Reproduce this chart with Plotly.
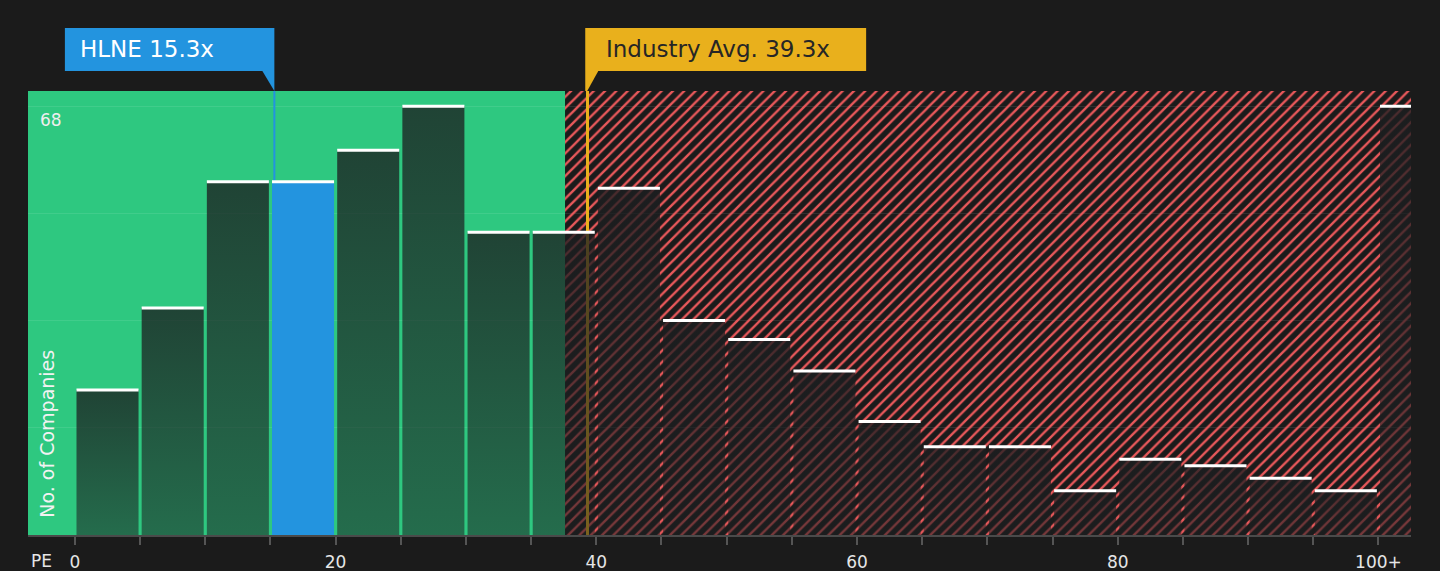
import plotly.graph_objects as go

# PE distribution (bins of 5x, last bin is 100+)
bin_lo = [0, 5, 10, 15, 20, 25, 30, 35, 40, 45, 50, 55, 60, 65, 70, 75, 80, 85, 90, 95, 100]
counts = [23, 36, 56, 56, 61, 68, 48, 48, 55, 34, 31, 26, 18, 14, 14, 7, 12, 11, 9, 7, 68]
bin_w = 5

tick_vals = list(range(0, 105, 5))
tick_text = ["0", "", "", "", "20", "", "", "", "40", "", "", "", "60", "", "", "", "80", "", "", "", "100+"]
grid_vals = [17, 34, 51, 68]

company = "HLNE"
company_pe = 15.3
industry_pe = 39.3
fair_limit = 37.6          # end of green "good value" zone

x_min, x_max = -3.6, 102.5
y_max = 70.4

BG = "#1b1b1b"
GREEN = "#2ec880"
BLUE = "#2394df"
ORANGE = "#e9b01c"
RED = "#e8585a"
FONT = "DejaVu Sans"
BAR_TOP = "rgba(28,30,32,0.78)"
BAR_BOTTOM = "rgba(28,30,32,0.54)"

hl_idx = bin_lo.index(15)
gap = 0.12

fig = go.Figure()

# red hatched "expensive" zone (bar layer -> stays under the scatter-drawn bars)
fig.add_trace(go.Bar(
    x=[(fair_limit + x_max) / 2], y=[y_max], width=x_max - fair_limit,
    marker=dict(color="rgba(0,0,0,0)", line=dict(width=0),
                pattern=dict(shape="/", fgcolor=RED, bgcolor="rgba(0,0,0,0)", fgopacity=1,
                             size=8, solidity=0.3)),
    hoverinfo="skip", showlegend=False,
))

# industry average line (under the bars)
fig.add_trace(go.Bar(x=[industry_pe], y=[y_max], width=0.22,
                     marker=dict(color=ORANGE, line=dict(width=0)),
                     hoverinfo="skip", showlegend=False))

# histogram bars, each with a top-dark gradient
for i, (lo, c) in enumerate(zip(bin_lo, counts)):
    x0, x1 = lo + gap, lo + bin_w - gap
    kw = dict(fillcolor=BLUE) if i == hl_idx else dict(
        fillgradient=dict(type="vertical", start=0, stop=c,
                          colorscale=[[0, BAR_BOTTOM], [1, BAR_TOP]]))
    fig.add_trace(go.Scatter(
        x=[x0, x1, x1, x0, x0], y=[0, 0, c, c, 0],
        mode="none", fill="toself", hoverinfo="skip", showlegend=False, **kw,
    ))

# company line from its bar up to the callout
fig.add_trace(go.Scatter(x=[company_pe, company_pe], y=[counts[hl_idx], y_max], mode="lines",
                         line=dict(color=BLUE, width=2), hoverinfo="skip", showlegend=False))

# white caps on each bar
cap_x, cap_y = [], []
for lo, c in zip(bin_lo, counts):
    cap_x += [lo + gap, lo + bin_w - gap, None]
    cap_y += [c, c, None]
fig.add_trace(go.Scatter(x=cap_x, y=cap_y, mode="lines",
                         line=dict(color="white", width=3), hoverinfo="skip", showlegend=False))

# green zone background
fig.add_shape(type="rect", xref="x", yref="paper", x0=x_min, x1=fair_limit, y0=0, y1=1,
              fillcolor=GREEN, line=dict(width=0), layer="below")

# callout boxes
box_y0, box_y1 = 1.045, 1.142
fig.add_shape(type="rect", xref="x", yref="paper", x0=-0.77, x1=company_pe, y0=box_y0, y1=box_y1,
              fillcolor=BLUE, line=dict(width=0))
fig.add_shape(type="path", xref="x", yref="paper",
              path=f"M {company_pe - 0.92} {box_y0} L {company_pe} {box_y0} L {company_pe} 1.0 Z",
              fillcolor=BLUE, line=dict(width=0))
fig.add_shape(type="rect", xref="x", yref="paper", x0=industry_pe - 0.15, x1=60.7, y0=box_y0, y1=box_y1,
              fillcolor=ORANGE, line=dict(width=0))
fig.add_shape(type="path", xref="x", yref="paper",
              path=f"M {industry_pe - 0.15} {box_y0} L {industry_pe + 0.85} {box_y0} L {industry_pe} 1.0 L {industry_pe - 0.15} 1.0 Z",
              fillcolor=ORANGE, line=dict(width=0))

fig.add_annotation(x=0.23, y=1.0935, xref="x", yref="paper", xanchor="left", yanchor="middle",
                   text=f"{company} {company_pe}x", showarrow=False,
                   font=dict(family=FONT, size=23, color="white"))
fig.add_annotation(x=40.6, y=1.0935, xref="x", yref="paper", xanchor="left", yanchor="middle",
                   text=f"Industry Avg. {industry_pe}x", showarrow=False,
                   font=dict(family=FONT, size=23, color="#262626"))

# axis texts
fig.add_annotation(x=-2.1, y=0.227, xref="x", yref="paper", xanchor="center", yanchor="middle",
                   text="No. of Companies", textangle=-90, showarrow=False,
                   font=dict(family=FONT, size=19, color="#f2f2f2"))
fig.add_annotation(x=-2.85, y=0.935, xref="x", yref="paper", xanchor="left", yanchor="middle",
                   text="68", showarrow=False, font=dict(family=FONT, size=17, color="#eeeeee"))
fig.add_annotation(x=-2.55, y=-0.059, xref="x", yref="paper", xanchor="center", yanchor="middle",
                   text="PE", showarrow=False, borderpad=0, font=dict(family=FONT, size=17, color="#e6e6e6"))

fig.update_layout(
    width=1440, height=571,
    margin=dict(l=28, r=29, t=91, b=36),
    paper_bgcolor=BG, plot_bgcolor=BG,
    barmode="overlay", bargap=0, showlegend=False,
    font=dict(family=FONT),
    xaxis=dict(range=[x_min, x_max], tickvals=tick_vals, ticktext=tick_text, automargin=False,
               ticks="outside", ticklen=8, tickcolor="#555555", tickwidth=1.5, ticklabelstandoff=3,
               showline=True, linecolor="#4a4a4a", linewidth=2, showgrid=False, zeroline=False,
               tickfont=dict(family=FONT, size=17, color="#e6e6e6")),
    yaxis=dict(range=[0, y_max], tickvals=grid_vals, showticklabels=False, automargin=False,
               showgrid=True, gridcolor="rgba(255,255,255,0.09)", gridwidth=1, zeroline=False),
)

fig.write_html("out.html", config={"displayModeBar": False},
               post_script="document.body.style.margin='0';document.body.style.backgroundColor='#1b1b1b';")
